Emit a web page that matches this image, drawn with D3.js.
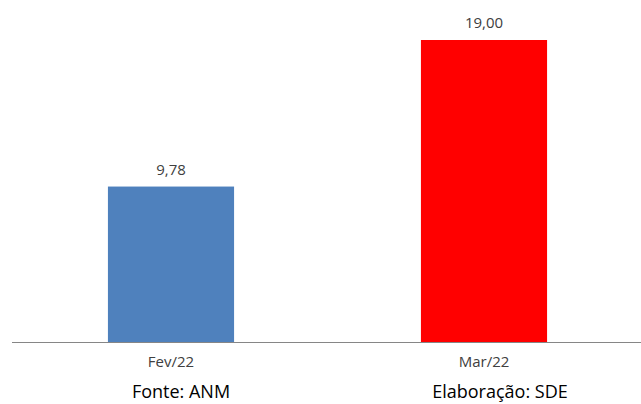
<!DOCTYPE html>
<html><head><meta charset="utf-8">
<script src="https://cdn.jsdelivr.net/npm/d3@7"></script>
<style>body{margin:0;background:#fff}svg{display:block}</style>
</head><body>
<script>
const categories = ["Fev/22", "Mar/22"];
const values = [9.78, 19.00];
const colors = ["#4F81BD", "#FF0000"];
const footer = ["Fonte: ANM", "Elaboração: SDE"];

const W = 641, H = 404;
const svg = d3.select("body").append("svg").attr("width", W).attr("height", H);
const x = d3.scaleBand().domain(categories).range([14.5, 640.5]).paddingInner(0.597).paddingOuter(0.2985);
const y = d3.scaleLinear().domain([0, 19]).range([342, 40]);
const fmt = v => v.toFixed(2).replace(".", ",");
const font = "'Open Sans', 'Liberation Sans', sans-serif";

svg.selectAll("rect.bar").data(values).join("rect").attr("class", "bar")
  .attr("x", (d, i) => x(categories[i])).attr("width", x.bandwidth())
  .attr("y", d => y(d)).attr("height", d => y(0) - y(d))
  .attr("fill", (d, i) => colors[i]);

svg.selectAll("text.val").data(values).join("text").attr("class", "val")
  .attr("x", (d, i) => x(categories[i]) + x.bandwidth() / 2)
  .attr("y", d => y(d) - 12).attr("text-anchor", "middle")
  .attr("font-family", font).attr("font-size", 15).attr("fill", "#404040")
  .text(fmt);

const axis = svg.append("g").attr("transform", `translate(0,${y(0)})`)
  .call(d3.axisBottom(x).tickSize(0).tickPadding(14));
axis.select(".domain").attr("stroke", "#868686").attr("d", "M12,0.5H641");
axis.selectAll("text").attr("font-family", font).attr("font-size", 15).attr("fill", "#404040");

const footX = [181, 500];
svg.selectAll("text.foot").data(footer).join("text").attr("class", "foot")
  .attr("x", (d, i) => footX[i])
  .attr("y", 398).attr("text-anchor", "middle")
  .attr("font-family", font).attr("font-size", 18).attr("fill", "#000")
  .text(d => d);
</script>
</body></html>
